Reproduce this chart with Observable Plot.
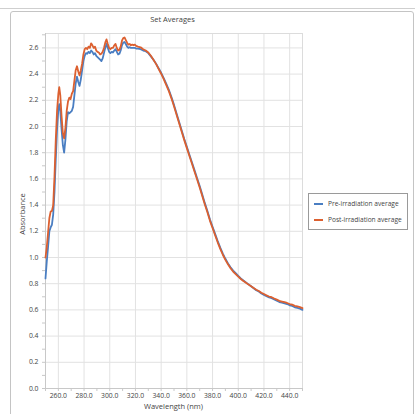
<!DOCTYPE html>
<html>
<head>
<meta charset="utf-8">
<script src="https://cdn.jsdelivr.net/npm/d3@7"></script>
<script src="https://cdn.jsdelivr.net/npm/@observablehq/plot@0.6"></script>
<style>
  html, body { margin: 0; padding: 0; background: #fff; }
  #wrap { position: relative; width: 415px; height: 414px; overflow: hidden; font-family: "Open Sans", "DejaVu Sans", sans-serif; color: #444; }
  #topline { position: absolute; left: 0; top: 8px; width: 415px; height: 0; border-top: 1px solid #cfcfcf; }
  #frame { position: absolute; left: 10px; top: 11px; width: 402px; height: 420px; border: 1px solid #c4c4c4; border-radius: 3px; }
  #chart { position: absolute; left: 0; top: 0; }
  #title { position: absolute; left: 0; width: 345px; top: 14px; text-align: center; font-size: 7.5px; color: #444; }
  #xlabel { position: absolute; left: 45px; width: 257px; top: 401px; text-align: center; font-size: 7.5px; color: #444; }
  #ylabel { position: absolute; left: 22px; top: 214px; font-size: 7.5px; color: #444; transform: translate(-50%, -50%) rotate(-90deg); white-space: nowrap; }
  #legend { position: absolute; left: 308px; top: 193px; width: 98px; height: 35px; border: 1px solid #9a9a9a; background: #fff; font-size: 6.6px; color: #444; }
  .item { position: absolute; left: 5px; display: flex; align-items: center; white-space: nowrap; }
  .sw { width: 9px; height: 2px; margin-right: 5px; }
</style>
</head>
<body>
<div id="wrap">
  <div id="topline"></div>
  <div id="frame"></div>
  <div id="chart"></div>
  <div id="title">Set Averages</div>
  <div id="xlabel">Wavelength (nm)</div>
  <div id="ylabel">Absorbance</div>
  <div id="legend">
    <div class="item" style="top:5px"><div class="sw" style="background:#4a7ec2"></div>Pre-irradiation average</div>
    <div class="item" style="top:21px"><div class="sw" style="background:#dc6030"></div>Post-irradiation average</div>
  </div>
</div>
<script>
const seriesNames = ["Pre-irradiation average", "Post-irradiation average"];
const seriesColors = ["#4a7ec2", "#dc6030"];

const wavelengths = [
  250, 251, 252, 253, 254, 255, 256, 257, 258, 259, 260, 260.7,
  261.5, 262.5, 263.5, 264.5, 265.5, 266.5, 267.5, 268.5, 269.5, 270.5,
  271.5, 272.5, 273.5, 274.5, 275.5, 276.5, 277.5, 278.5, 279.5, 280.5,
  281.5, 282.5, 283.5, 284.5, 285.5, 286.5, 287.5, 288.5, 289.5, 290.5,
  291.5, 292.5, 293.5, 294.5, 295.5, 296.5, 297.5, 298.5, 299.5, 300.5,
  301.5, 302.5, 303.5, 304.5, 305.5, 306.5, 307.5, 308.5, 309.5, 310.5,
  311.5, 312.5, 313.5, 314.5, 315.5, 316.5, 317.5, 318.5, 319.5, 320.5,
  322, 324, 326, 328, 330, 332, 334, 336, 338, 340,
  342, 344, 346, 348, 350, 352, 354, 356, 358, 360,
  362, 364, 366, 368, 370, 372, 374, 376, 378, 380,
  382, 384, 386, 388, 390, 392, 394, 396, 398, 400,
  402, 404, 406, 408, 410, 412, 414, 416, 418, 420,
  422, 424, 426, 428, 430, 432, 434, 436, 438, 440,
  442, 444, 446, 448, 450
];

const preAbsorbance = [
  0.84, 0.97, 1.08, 1.20, 1.23, 1.25, 1.33, 1.50, 1.75, 1.98, 2.13, 2.17,
  2.12, 1.98, 1.86, 1.80, 1.90, 2.04, 2.11, 2.10, 2.11, 2.12,
  2.15, 2.24, 2.33, 2.38, 2.34, 2.31, 2.36, 2.43, 2.50, 2.54,
  2.56, 2.555, 2.57, 2.56, 2.58, 2.57, 2.55, 2.56, 2.54, 2.53,
  2.52, 2.51, 2.50, 2.52, 2.56, 2.60, 2.63, 2.60, 2.57, 2.56,
  2.57, 2.565, 2.58, 2.59, 2.57, 2.55, 2.555, 2.58, 2.62, 2.64,
  2.645, 2.63, 2.61, 2.60, 2.605, 2.60, 2.60, 2.60, 2.60, 2.595,
  2.595, 2.59, 2.58, 2.575, 2.56, 2.535, 2.51, 2.48, 2.445, 2.41,
  2.37, 2.325, 2.28, 2.225, 2.165, 2.10, 2.035, 1.97, 1.905, 1.845,
  1.785, 1.725, 1.665, 1.605, 1.545, 1.48, 1.415, 1.355, 1.29, 1.235,
  1.18, 1.125, 1.075, 1.03, 0.99, 0.955, 0.925, 0.90, 0.88, 0.86,
  0.84, 0.825, 0.81, 0.795, 0.78, 0.765, 0.75, 0.74, 0.725, 0.715,
  0.705, 0.695, 0.69, 0.68, 0.67, 0.66, 0.655, 0.65, 0.645, 0.635,
  0.63, 0.62, 0.615, 0.61, 0.60
];

const postAbsorbance = [
  1.00, 1.08, 1.19, 1.30, 1.35, 1.355, 1.40, 1.62, 1.90, 2.12, 2.25, 2.30,
  2.24, 2.08, 1.95, 1.91, 1.99, 2.12, 2.19, 2.22, 2.21, 2.25,
  2.27, 2.35, 2.43, 2.46, 2.42, 2.39, 2.43, 2.48, 2.55, 2.59,
  2.60, 2.59, 2.61, 2.60, 2.635, 2.62, 2.60, 2.61, 2.58, 2.57,
  2.565, 2.55, 2.555, 2.57, 2.60, 2.64, 2.665, 2.63, 2.60, 2.59,
  2.60, 2.60, 2.62, 2.63, 2.60, 2.58, 2.585, 2.61, 2.655, 2.675,
  2.68, 2.66, 2.64, 2.625, 2.63, 2.62, 2.625, 2.62, 2.625, 2.615,
  2.61, 2.605, 2.59, 2.58, 2.565, 2.54, 2.51, 2.478, 2.44, 2.403,
  2.362, 2.316, 2.27, 2.215, 2.155, 2.09, 2.025, 1.96, 1.896, 1.835,
  1.775, 1.715, 1.655, 1.595, 1.535, 1.47, 1.405, 1.345, 1.28, 1.225,
  1.17, 1.116, 1.066, 1.021, 0.982, 0.948, 0.918, 0.893, 0.873, 0.854,
  0.836, 0.821, 0.807, 0.793, 0.78, 0.767, 0.754, 0.744, 0.731, 0.721,
  0.711, 0.702, 0.697, 0.687, 0.678, 0.669, 0.664, 0.659, 0.653, 0.645,
  0.64, 0.631, 0.627, 0.621, 0.613
];

const xMajorTicks = [260, 280, 300, 320, 340, 360, 380, 400, 420, 440];
const xMinorTicks = [250, 260, 270, 280, 290, 300, 310, 320, 330, 340, 350, 360, 370, 380, 390, 400, 410, 420, 430, 440, 450];
const yMajorTicks = [0, 0.2, 0.4, 0.6, 0.8, 1.0, 1.2, 1.4, 1.6, 1.8, 2.0, 2.2, 2.4, 2.6];
const yMinorTicks = [0, 0.1, 0.2, 0.3, 0.4, 0.5, 0.6, 0.7, 0.8, 0.9, 1.0, 1.1, 1.2, 1.3, 1.4, 1.5, 1.6, 1.7, 1.8, 1.9, 2.0, 2.1, 2.2, 2.3, 2.4, 2.5, 2.6, 2.7];

const pre = wavelengths.map((w, i) => ({w, a: preAbsorbance[i], s: seriesNames[0]}));
const post = wavelengths.map((w, i) => ({w, a: postAbsorbance[i], s: seriesNames[1]}));

const fontFamily = '"Open Sans", "DejaVu Sans", sans-serif';

const chart = Plot.plot({
  width: 310,
  height: 414,
  marginLeft: 45,
  marginRight: 8,
  marginTop: 33,
  marginBottom: 26,
  style: {fontFamily, fontSize: "6.8px", color: "#444", background: "transparent"},
  x: {domain: [250, 450]},
  y: {domain: [0, 2.71]},
  marks: [
    Plot.gridX(xMajorTicks, {stroke: "#e2e2e2", strokeOpacity: 1}),
    Plot.gridY(yMajorTicks.filter(d => d > 0), {stroke: "#e2e2e2", strokeOpacity: 1}),
    Plot.frame({stroke: "#dcdcdc"}),
    Plot.ruleX([250], {stroke: "#c8c8c8"}),
    Plot.ruleY([0], {stroke: "#c8c8c8"}),
    Plot.axisX({ticks: xMinorTicks, tickSize: 3, tickFormat: () => "", stroke: "#c8c8c8", label: null}),
    Plot.axisX({ticks: xMajorTicks, tickSize: 0, tickPadding: 5, tickFormat: d3.format(".1f"), fill: "#444", label: null}),
    Plot.axisY({ticks: yMinorTicks, tickSize: 3, tickFormat: () => "", stroke: "#c8c8c8", label: null}),
    Plot.axisY({ticks: yMajorTicks, tickSize: 0, tickPadding: 7, tickFormat: d3.format(".1f"), fill: "#444", label: null}),
    Plot.line(pre, {x: "w", y: "a", stroke: seriesColors[0], strokeWidth: 1.8, curve: "linear"}),
    Plot.line(post, {x: "w", y: "a", stroke: seriesColors[1], strokeWidth: 1.8, curve: "linear"})
  ]
});
document.getElementById("chart").appendChild(chart);
</script>
</body>
</html>
